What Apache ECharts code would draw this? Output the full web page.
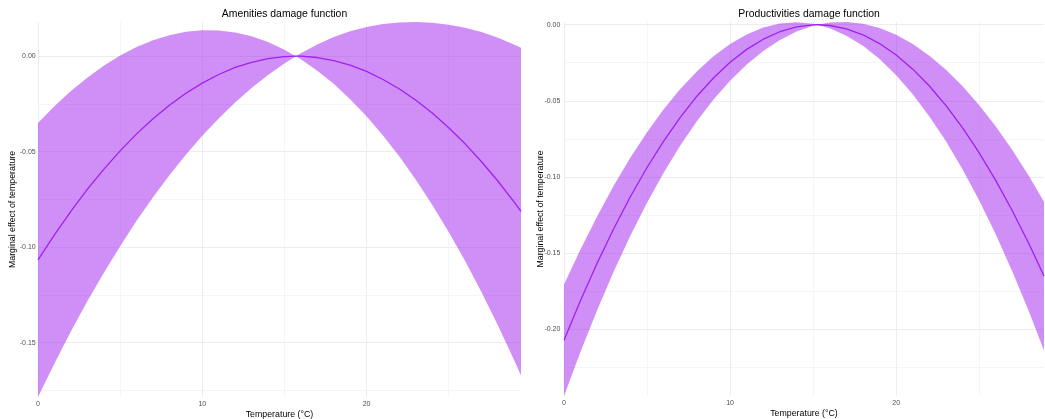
<!DOCTYPE html>
<html>
<head>
<meta charset="utf-8">
<script src="https://cdn.jsdelivr.net/npm/echarts@6/dist/echarts.min.js"></script>
<style>
  html, body { margin: 0; padding: 0; background: #ffffff; }
  #chart { width: 1045px; height: 419px; }
</style>
</head>
<body>
<div id="chart"></div>
<script>
// Amenities damage function: temperature, estimate and confidence band
const amenX = [0, 1, 2, 3, 4, 5, 6, 7, 8, 9, 10, 11, 12, 13, 14, 15, 15.7,
  16, 17, 18, 19, 20, 21, 22, 23, 24, 25, 26, 27, 28, 29, 29.4];
const amenMid = [-0.1067, -0.0936, -0.0813, -0.0698, -0.0593, -0.0496, -0.0407, -0.0328,
  -0.0257, -0.0194, -0.0141, -0.0096, -0.0059, -0.0032, -0.0013, -0.0002, 0,
  0, -0.0007, -0.0023, -0.0047, -0.0080, -0.0122, -0.0172, -0.0231, -0.0298,
  -0.0375, -0.0459, -0.0553, -0.0655, -0.0766, -0.0813];
const amenUpper = [-0.0350, -0.0262, -0.0183, -0.0113, -0.0050, 0.0003, 0.0048, 0.0083,
  0.0110, 0.0128, 0.0136, 0.0134, 0.0124, 0.0104, 0.0074, 0.0034, 0,
  0.0015, 0.0061, 0.0100, 0.0131, 0.0153, 0.0168, 0.0177, 0.0179, 0.0175,
  0.0165, 0.0149, 0.0126, 0.0097, 0.0060, 0.0044];
const amenLower = [-0.1785, -0.1609, -0.1442, -0.1284, -0.1135, -0.0995, -0.0862, -0.0739,
  -0.0623, -0.0516, -0.0417, -0.0326, -0.0242, -0.0167, -0.0099, -0.0038, 0,
  -0.0016, -0.0076, -0.0145, -0.0225, -0.0315, -0.0415, -0.0526, -0.0647, -0.0779,
  -0.0921, -0.1073, -0.1237, -0.1410, -0.1595, -0.1672];

// Productivities damage function
const prodX = [0, 1, 2, 3, 4, 5, 6, 7, 8, 9, 10, 11, 12, 13, 14, 15, 15.27,
  16, 17, 18, 19, 20, 21, 22, 23, 24, 25, 26, 27, 28, 28.9];
const prodMid = [-0.2075, -0.1812, -0.1567, -0.1340, -0.1130, -0.0939, -0.0765, -0.0609,
  -0.0470, -0.0350, -0.0247, -0.0162, -0.0095, -0.0046, -0.0014, -0.0001, 0,
  -0.0005, -0.0027, -0.0066, -0.0124, -0.0199, -0.0292, -0.0403, -0.0532, -0.0678,
  -0.0843, -0.1025, -0.1225, -0.1442, -0.1653];
const prodUpper = [-0.1708, -0.1476, -0.1259, -0.1058, -0.0874, -0.0707, -0.0556, -0.0423,
  -0.0307, -0.0208, -0.0127, -0.0064, -0.0018, 0.0008, 0.0016, 0.0006, 0,
  0.0014, 0.0018, 0.0006, -0.0022, -0.0066, -0.0127, -0.0204, -0.0296, -0.0405,
  -0.0529, -0.0669, -0.0825, -0.0996, -0.1164];
const prodLower = [-0.2442, -0.2149, -0.1876, -0.1622, -0.1387, -0.1171, -0.0973, -0.0795,
  -0.0634, -0.0492, -0.0368, -0.0261, -0.0172, -0.0100, -0.0045, -0.0007, 0,
  -0.0023, -0.0072, -0.0139, -0.0226, -0.0332, -0.0457, -0.0603, -0.0767, -0.0952,
  -0.1156, -0.1380, -0.1624, -0.1888, -0.2143];

// Tick positions
const xMajorTicks = [0, 10, 20];
const xMinorTicks = [5, 15, 25];
const amenYMajor = [-0.15, -0.10, -0.05, 0];
const amenYMinor = [-0.175, -0.125, -0.075, -0.025];
const prodYMajor = [-0.20, -0.15, -0.10, -0.05, 0];
const prodYMinor = [-0.225, -0.175, -0.125, -0.075, -0.025];

// Text
const titles = ['Amenities damage function', 'Productivities damage function'];
const xTitle = 'Temperature (°C)';
const yTitle = 'Marginal effect of temperature';

const FONT = '"Liberation Sans", Arial, Helvetica, sans-serif';
const BAND = 'rgba(160, 32, 240, 0.5)';
const LINE = '#A020F0';
const GRID_COLOR = '#EBEBEB';

const grids = [
  { left: 38, top: 22, width: 483, height: 375, outerBoundsMode: 'none', containLabel: false },
  { left: 564, top: 22, width: 480, height: 374, outerBoundsMode: 'none', containLabel: false }
];

const panels = [
  { x: amenX, mid: amenMid, up: amenUpper, lo: amenLower,
    yMajor: amenYMajor, yMinor: amenYMinor, yLabelMargin: 2.3, yNameGap: 20.5 },
  { x: prodX, mid: prodMid, up: prodUpper, lo: prodLower,
    yMajor: prodYMajor, yMinor: prodYMinor, yLabelMargin: 3.6, yNameGap: 19 }
];

const xAxes = [], yAxes = [], series = [], titleList = [];

panels.forEach((p, i) => {
  const xMin = Math.min(...p.x), xMax = Math.max(...p.x);
  const yMin = Math.min(...p.lo), yMax = Math.max(...p.up);
  const g = grids[i];

  titleList.push({
    text: titles[i],
    left: g.left + g.width / 2,
    top: 4,
    textAlign: 'center',
    textStyle: { fontFamily: FONT, fontSize: 10.4, fontWeight: 'normal', color: '#000000' }
  });

  // major x axis with labels and title
  xAxes.push({
    gridIndex: i, type: 'value', min: xMin, max: xMax, position: 'bottom',
    axisLine: { show: false },
    axisTick: { show: false, customValues: xMajorTicks },
    axisLabel: { customValues: xMajorTicks, fontFamily: FONT, fontSize: 7, color: '#4D4D4D', margin: 3.5 },
    splitLine: { show: true, lineStyle: { color: GRID_COLOR, width: 0.9 } },
    name: xTitle, nameLocation: 'middle', nameGap: 13.5, nameMoveOverlap: false,
    nameTextStyle: { fontFamily: FONT, fontSize: 8.8, color: '#000000' }
  });
  // minor x grid lines
  xAxes.push({
    gridIndex: i, type: 'value', min: xMin, max: xMax, position: 'bottom',
    axisLine: { show: false },
    axisTick: { show: false, customValues: xMinorTicks },
    axisLabel: { show: false },
    splitLine: { show: true, lineStyle: { color: GRID_COLOR, width: 0.5 } }
  });
  // major y axis with labels and title
  yAxes.push({
    gridIndex: i, type: 'value', min: yMin, max: yMax, position: 'left',
    axisLine: { show: false },
    axisTick: { show: false, customValues: p.yMajor },
    axisLabel: { customValues: p.yMajor, formatter: v => v.toFixed(2),
      fontFamily: FONT, fontSize: 7, color: '#4D4D4D', margin: p.yLabelMargin },
    splitLine: { show: true, lineStyle: { color: GRID_COLOR, width: 0.9 } },
    name: yTitle, nameLocation: 'middle', nameGap: p.yNameGap, nameRotate: 90,
    nameMoveOverlap: false,
    nameTextStyle: { fontFamily: FONT, fontSize: 8.8, color: '#000000' }
  });
  // minor y grid lines
  yAxes.push({
    gridIndex: i, type: 'value', min: yMin, max: yMax, position: 'left',
    axisLine: { show: false },
    axisTick: { show: false, customValues: p.yMinor },
    axisLabel: { show: false },
    splitLine: { show: true, lineStyle: { color: GRID_COLOR, width: 0.5 } }
  });

  const bandRows = p.x.map((x, k) => [x, p.lo[k], p.up[k]]);

  // confidence band as a single polygon: upper edge, then lower edge back
  series.push({
    type: 'custom',
    xAxisIndex: i * 2, yAxisIndex: i * 2,
    silent: true,
    encode: { x: 0, y: [1, 2] },
    data: bandRows,
    renderItem: (params, api) => {
      if (params.dataIndex !== 0) return null;
      const pts = [];
      for (let k = 0; k < bandRows.length; k++) pts.push(api.coord([bandRows[k][0], bandRows[k][2]]));
      for (let k = bandRows.length - 1; k >= 0; k--) pts.push(api.coord([bandRows[k][0], bandRows[k][1]]));
      return { type: 'polygon', shape: { points: pts }, style: { fill: BAND } };
    },
    z: 2
  });

  // point estimate
  series.push({
    type: 'line',
    xAxisIndex: i * 2, yAxisIndex: i * 2,
    data: p.x.map((x, k) => [x, p.mid[k]]),
    showSymbol: false, symbol: 'none', silent: true,
    lineStyle: { color: LINE, width: 1.3 },
    z: 3
  });
});

const chart = echarts.init(document.getElementById('chart'), null, { renderer: 'canvas' });
chart.setOption({
  animation: false,
  backgroundColor: '#ffffff',
  title: titleList,
  grid: grids,
  xAxis: xAxes,
  yAxis: yAxes,
  series: series
});
</script>
</body>
</html>
